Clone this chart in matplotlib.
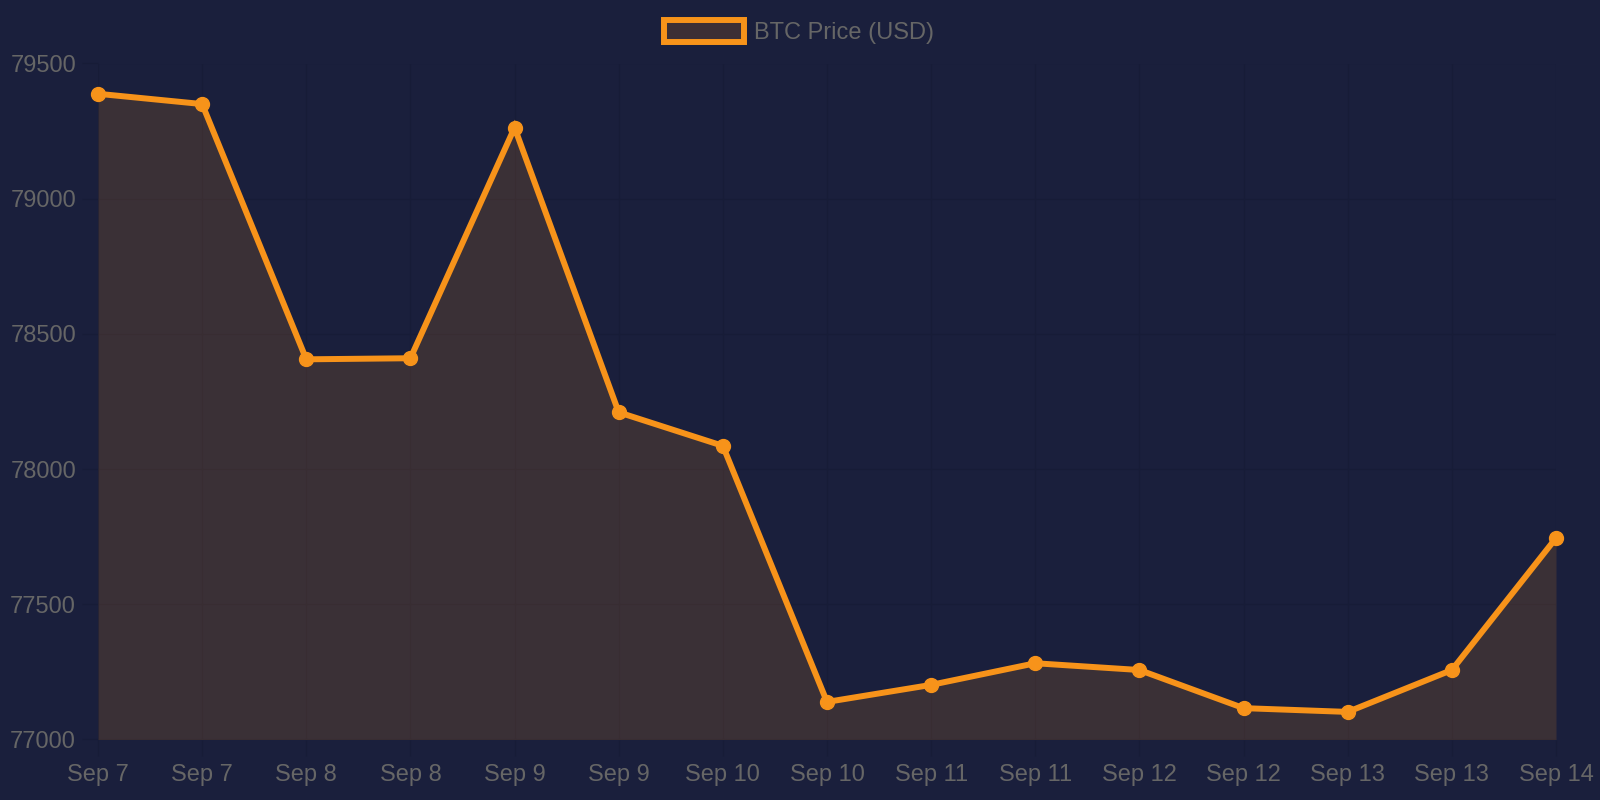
import matplotlib
matplotlib.use("Agg")
import matplotlib.pyplot as plt
from matplotlib.patches import Rectangle

labels = ["Sep 7", "Sep 7", "Sep 8", "Sep 8", "Sep 9", "Sep 9", "Sep 10", "Sep 10",
          "Sep 11", "Sep 11", "Sep 12", "Sep 12", "Sep 13", "Sep 13", "Sep 14"]
prices = [79388, 79350, 78406, 78410, 79263, 78210, 78086, 77139,
          77202, 77282, 77257, 77116, 77102, 77257, 77745]
y_ticks = [77000, 77500, 78000, 78500, 79000, 79500]
series_name = "BTC Price (USD)"

BG = "#1a1f3c"
ORANGE = "#f7931a"
FILL = "#3c2f35"
GRID = "#171c37"
TEXT = "#666666"

plt.rcParams['font.family'] = ['Liberation Sans', 'DejaVu Sans']

fig = plt.figure(figsize=(16, 8), dpi=100, facecolor=BG)
ax = fig.add_axes([98/1600, 1-739.5/800, (1556-98)/1600, (739.5-63.5)/800])
ax.set_facecolor(BG)

x = list(range(len(prices)))
ax.fill_between(x, prices, y_ticks[0], color=ORANGE, alpha=0.15, linewidth=0, zorder=2)
ax.plot(x, prices, color=ORANGE, linewidth=4.3, marker='o', markersize=10,
        markerfacecolor=ORANGE, markeredgecolor=ORANGE, zorder=3,
        solid_joinstyle='miter', clip_on=False)

ax.set_xlim(0, len(prices) - 1)
ax.set_ylim(y_ticks[0], y_ticks[-1])
ax.set_xticks(x)
ax.set_xticklabels(labels)
ax.set_yticks(y_ticks)
ax.set_yticklabels([str(v) for v in y_ticks])

for s in ax.spines.values():
    s.set_visible(False)
ax.grid(True, color=GRID, linewidth=1.0, zorder=1)
ax.set_axisbelow(True)
ax.tick_params(axis='both', colors=GRID, labelcolor=TEXT, labelsize=17,
               length=11.5, width=1.0)
ax.tick_params(axis='y', pad=4.3)
ax.tick_params(axis='x', pad=6.5)

handle = Rectangle((0, 0), 1, 1, facecolor=FILL, edgecolor=ORANGE, linewidth=4.3)
fig.legend([handle], [series_name], loc='center', bbox_to_anchor=(799/1600, 1-32/800),
           frameon=False, fontsize=17, labelcolor=TEXT, handlelength=3.4,
           handleheight=1.05, handletextpad=0.45, borderpad=0)

fig.savefig("out.png", dpi=100, facecolor=BG)
